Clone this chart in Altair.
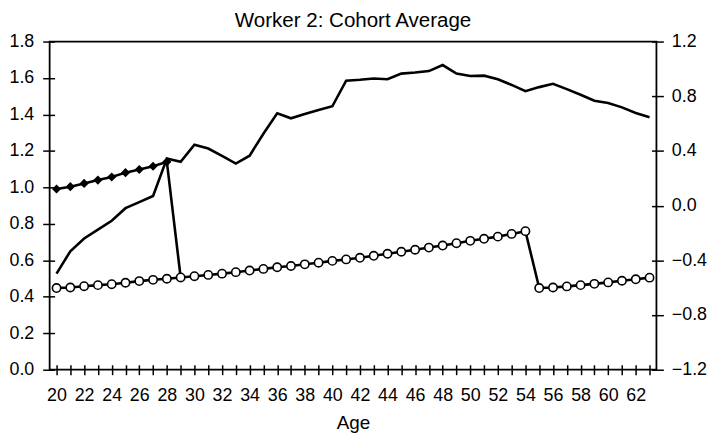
import altair as alt
import pandas as pd

ages = list(range(20, 64))
solid_vals = [0.527, 0.650, 0.720, 0.768, 0.817, 0.886, 0.919, 0.953, 1.158, 1.140,
              1.234, 1.213, 1.173, 1.131, 1.174, 1.294, 1.407, 1.379, 1.402, 1.425,
              1.445, 1.585, 1.590, 1.597, 1.593, 1.624, 1.630, 1.638, 1.671, 1.624,
              1.611, 1.613, 1.593, 1.562, 1.528, 1.550, 1.568, 1.539, 1.508, 1.475,
              1.463, 1.439, 1.408, 1.385]
diamond_ages = list(range(20, 30))
diamond_vals = [0.991, 1.004, 1.022, 1.040, 1.057, 1.081, 1.098, 1.116, 1.140, 0.506]
circle_vals = [0.448, 0.451, 0.458, 0.464, 0.469, 0.477, 0.486, 0.493, 0.499, 0.506,
               0.513, 0.520, 0.527, 0.535, 0.544, 0.553, 0.562, 0.569, 0.578, 0.587,
               0.597, 0.605, 0.614, 0.625, 0.636, 0.647, 0.658, 0.670, 0.681, 0.694,
               0.707, 0.718, 0.730, 0.745, 0.760, 0.448, 0.451, 0.457, 0.464, 0.471,
               0.479, 0.488, 0.496, 0.505]
left_ticks = [0.0, 0.2, 0.4, 0.6, 0.8, 1.0, 1.2, 1.4, 1.6, 1.8]
right_ticks = [-1.2, -0.8, -0.4, 0.0, 0.4, 0.8, 1.2]

FONT = "Liberation Sans"

solid_df = pd.DataFrame({"age": ages, "v": solid_vals})
diamond_df = pd.DataFrame({"age": diamond_ages, "v": diamond_vals})
circle_df = pd.DataFrame({"age": ages, "v": circle_vals})
right_df = pd.DataFrame({"r": right_ticks})

common = dict(labelFont=FONT, labelFontSize=18, labelColor="black", tickColor="black",
              tickWidth=1.5, titleFont=FONT, titleFontSize=19, titleFontWeight="normal",
              titleColor="black", domain=False, grid=False)

xscale = alt.Scale(domain=[19.5, 63.5], nice=False, zero=False)
xaxis = alt.Axis(values=ages, labelExpr="datum.value % 2 == 0 ? datum.label : ''",
                 title="Age", offset=-5, tickSize=10, labelPadding=12, titlePadding=9,
                 labelFlush=False, **common)
yscale = alt.Scale(domain=[0, 1.8], nice=False, zero=False)
yaxis = alt.Axis(values=left_ticks, format=".1f", title=None, offset=-5, tickSize=12,
                 labelPadding=9, **common)

x = alt.X("age:Q", scale=xscale, axis=xaxis)
y = alt.Y("v:Q", scale=yscale, axis=yaxis)

LW = 2.6
solid = alt.Chart(solid_df).mark_line(color="black", strokeWidth=LW).encode(x=x, y=y)
dline = alt.Chart(diamond_df).mark_line(color="black", strokeWidth=LW).encode(x=x, y=y)
dpts = alt.Chart(diamond_df).transform_filter("datum.age <= 28").mark_point(
    shape="diamond", filled=True, color="black", size=85, opacity=1).encode(x=x, y=y)
cline = alt.Chart(circle_df).mark_line(color="black", strokeWidth=LW).encode(x=x, y=y)
cpts = alt.Chart(circle_df).mark_point(
    shape="circle", filled=True, fill="white", stroke="black", strokeWidth=1.6,
    size=70, opacity=1).encode(x=x, y=y)

left = alt.layer(solid, dline, dpts, cline, cpts)

right = alt.Chart(right_df).mark_point(opacity=0).encode(
    x=alt.value(0),
    y=alt.Y("r:Q", scale=alt.Scale(domain=[-1.2, 1.2], nice=False, zero=False),
            axis=alt.Axis(orient="right", values=right_ticks, format=".1f", title=None,
                          offset=-5, tickSize=12, labelPadding=8, **common)))

chart = alt.layer(left, right).resolve_scale(y="independent").properties(
    width=612, height=331,
    background="white",
    title=alt.TitleParams("Worker 2: Cohort Average", fontSize=20.7, fontWeight="normal",
                          font=FONT, color="black", offset=1),
    padding={"left": 0, "top": 0, "right": 0, "bottom": 0},
).configure_view(stroke="black", strokeWidth=1.8)

chart.save("out.html", embed_options={"renderer": "svg", "actions": False})
